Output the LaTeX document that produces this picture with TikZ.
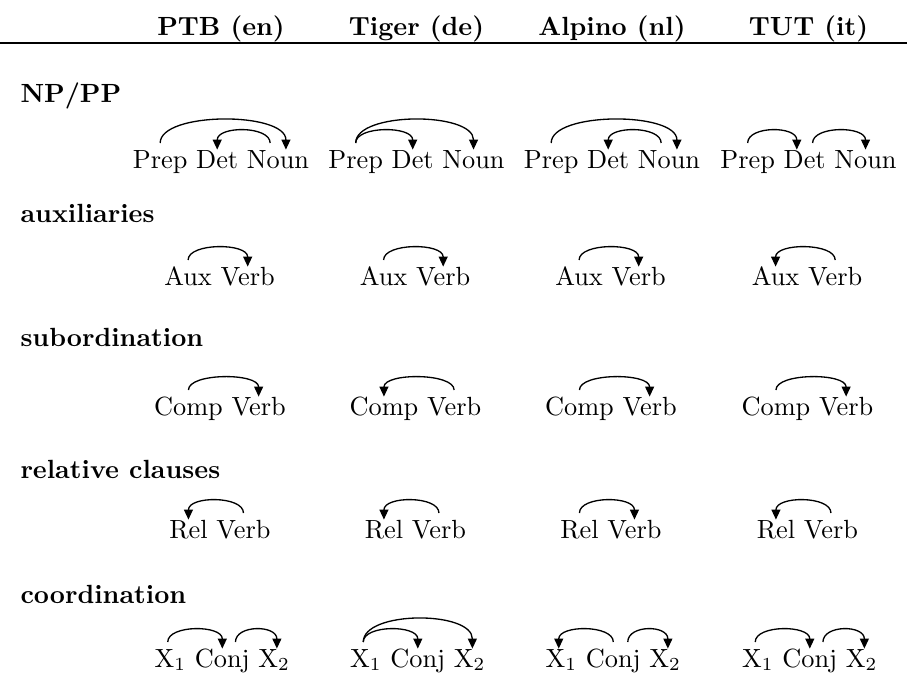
\documentclass[tikz,border=0pt]{standalone}
\usetikzlibrary{arrows.meta}
\begin{document}
\begin{tikzpicture}[x=0.3802pt,y=-0.3802pt,
  word/.style={inner sep=0pt,outer sep=0pt,anchor=base west},
  colhead/.style={inner sep=0pt,anchor=base,font=\bfseries},
  rowlabel/.style={inner sep=0pt,anchor=base west,font=\bfseries},
  dep/.style={line width=0.5pt,-{Triangle[length=3.8pt,width=3.4pt]}},
]
% column centres and interword space
\def\cA{221}\def\cB{416.5}\def\cC{612}\def\cD{808.5}
\def\wsp{3.333pt}
% heights above the baseline: arc foot (\fh) and arrow tip (\th);
% control lengths for short (\hs) and long (\hl) arcs, measured from the foot
\def\fh{9.5pt}\def\th{7pt}
\def\hs{6.6pt}\def\hse{9.1pt}
\def\hl{12pt}\def\hle{14.5pt}
\useasboundingbox (0,0) rectangle (907,675);

% ---------------- header ----------------
\node[colhead] (hA) at (\cA,35) {PTB (en)};
\node[colhead] (hB) at (\cB,35) {Tiger (de)};
\node[colhead] (hC) at (\cC,35) {Alpino (nl)};
\node[colhead] (hD) at (\cD,35) {TUT (it)};
\coordinate (ruleL) at (0,43);
\coordinate (ruleR) at (907,43);
\draw[line width=0.6pt] (ruleL) -- (ruleR);

% ---------------- NP/PP ----------------
\node[rowlabel] (lnp) at (20,102) {NP/PP};
\foreach \c/\x in {A/\cA,B/\cB,C/\cC,D/\cD}{
  \node[word] (np\c p) at ([xshift=-33.49pt]\x,168) {Prep};
  \node[word] (np\c d) at ([xshift=\wsp]np\c p.base east) {Det};
  \node[word] (np\c n) at ([xshift=\wsp]np\c d.base east) {Noun};
}
% PTB: Prep -> Noun, Noun -> Det
\draw[dep] ([yshift=\fh]npAp.base) .. controls +(0pt,\hl) and +(0pt,\hle) .. ([xshift=3pt,yshift=\th]npAn.base);
\draw[dep] ([xshift=-3pt,yshift=\fh]npAn.base) .. controls +(0pt,\hs) and +(0pt,\hse) .. ([yshift=\th]npAd.base);
% Tiger: Prep -> Det, Prep -> Noun
\draw[dep] ([yshift=\fh]npBp.base) .. controls +(0pt,\hs) and +(0pt,\hse) .. ([yshift=\th]npBd.base);
\draw[dep] ([yshift=\fh]npBp.base) .. controls +(0pt,\hl) and +(0pt,\hle) .. ([yshift=\th]npBn.base);
% Alpino: Prep -> Noun, Noun -> Det
\draw[dep] ([yshift=\fh]npCp.base) .. controls +(0pt,\hl) and +(0pt,\hle) .. ([xshift=3pt,yshift=\th]npCn.base);
\draw[dep] ([xshift=-3pt,yshift=\fh]npCn.base) .. controls +(0pt,\hs) and +(0pt,\hse) .. ([yshift=\th]npCd.base);
% TUT: Prep -> Det, Det -> Noun
\draw[dep] ([yshift=\fh]npDp.base) .. controls +(0pt,\hs) and +(0pt,\hse) .. ([xshift=-3pt,yshift=\th]npDd.base);
\draw[dep] ([xshift=3pt,yshift=\fh]npDd.base) .. controls +(0pt,\hs) and +(0pt,\hse) .. ([yshift=\th]npDn.base);

% ---------------- auxiliaries ----------------
\node[rowlabel] (laux) at (20,222) {auxiliaries};
\foreach \c/\x in {A/\cA,B/\cB,C/\cC,D/\cD}{
  \node[word] (aux\c a) at ([xshift=-21.54pt]\x,285) {Aux};
  \node[word] (aux\c v) at ([xshift=\wsp]aux\c a.base east) {Verb};
}
\foreach \c in {A,B,C}{
  \draw[dep] ([yshift=\fh]aux\c a.base) .. controls +(0pt,\hs) and +(0pt,\hse) .. ([yshift=\th]aux\c v.base);
}
\draw[dep] ([yshift=\fh]auxDv.base) .. controls +(0pt,\hs) and +(0pt,\hse) .. ([yshift=\th]auxDa.base);

% ---------------- subordination ----------------
\node[rowlabel] (lsub) at (20,346) {subordination};
\foreach \c/\x in {A/\cA,B/\cB,C/\cC,D/\cD}{
  \node[word] (sub\c c) at ([xshift=-25.43pt]\x,415) {Comp};
  \node[word] (sub\c v) at ([xshift=\wsp]sub\c c.base east) {Verb};
}
\foreach \c in {A,C,D}{
  \draw[dep] ([yshift=\fh]sub\c c.base) .. controls +(0pt,\hs) and +(0pt,\hse) .. ([yshift=\th]sub\c v.base);
}
\draw[dep] ([yshift=\fh]subBv.base) .. controls +(0pt,\hs) and +(0pt,\hse) .. ([yshift=\th]subBc.base);

% ---------------- relative clauses ----------------
\node[rowlabel] (lrel) at (20,478) {relative clauses};
\foreach \c/\x in {A/\cA,B/\cB,C/\cC,D/\cD}{
  \node[word] (rel\c r) at ([xshift=-19.67pt]\x,538) {Rel};
  \node[word] (rel\c v) at ([xshift=\wsp]rel\c r.base east) {Verb};
}
\foreach \c in {A,B,D}{
  \draw[dep] ([yshift=\fh]rel\c v.base) .. controls +(0pt,\hs) and +(0pt,\hse) .. ([yshift=\th]rel\c r.base);
}
\draw[dep] ([yshift=\fh]relCr.base) .. controls +(0pt,\hs) and +(0pt,\hse) .. ([yshift=\th]relCv.base);

% ---------------- coordination ----------------
\node[rowlabel] (lcoord) at (20,603) {coordination};
\foreach \c/\x in {A/\cA,B/\cB,C/\cC,D/\cD}{
  \node[word] (co\c x) at ([xshift=-25.24pt]\x,667) {X$_1$};
  \node[word] (co\c c) at ([xshift=\wsp]co\c x.base east) {Conj};
  \node[word] (co\c y) at ([xshift=\wsp]co\c c.base east) {X$_2$};
}
% PTB: X1 -> Conj, Conj -> X2
\draw[dep] ([xshift=-1pt,yshift=\fh]coAx.base) .. controls +(0pt,\hs) and +(0pt,\hse) .. ([yshift=\th]coAc.base);
\draw[dep] ([xshift=5pt,yshift=\fh]coAc.base) .. controls +(0pt,\hs) and +(0pt,\hse) .. ([xshift=1pt,yshift=\th]coAy.base);
% Tiger: X1 -> Conj, X1 -> X2
\draw[dep] ([xshift=-1pt,yshift=\fh]coBx.base) .. controls +(0pt,\hs) and +(0pt,\hse) .. ([yshift=\th]coBc.base);
\draw[dep] ([xshift=-1pt,yshift=\fh]coBx.base) .. controls +(0pt,\hl) and +(0pt,\hle) .. ([xshift=1pt,yshift=\th]coBy.base);
% Alpino: Conj -> X1, Conj -> X2
\draw[dep] ([yshift=\fh]coCc.base) .. controls +(0pt,\hs) and +(0pt,\hse) .. ([xshift=-1pt,yshift=\th]coCx.base);
\draw[dep] ([xshift=5.5pt,yshift=\fh]coCc.base) .. controls +(0pt,\hs) and +(0pt,\hse) .. ([xshift=1pt,yshift=\th]coCy.base);
% TUT: X1 -> Conj, Conj -> X2
\draw[dep] ([xshift=-1pt,yshift=\fh]coDx.base) .. controls +(0pt,\hs) and +(0pt,\hse) .. ([yshift=\th]coDc.base);
\draw[dep] ([xshift=5pt,yshift=\fh]coDc.base) .. controls +(0pt,\hs) and +(0pt,\hse) .. ([xshift=1pt,yshift=\th]coDy.base);
\end{tikzpicture}
\end{document}
